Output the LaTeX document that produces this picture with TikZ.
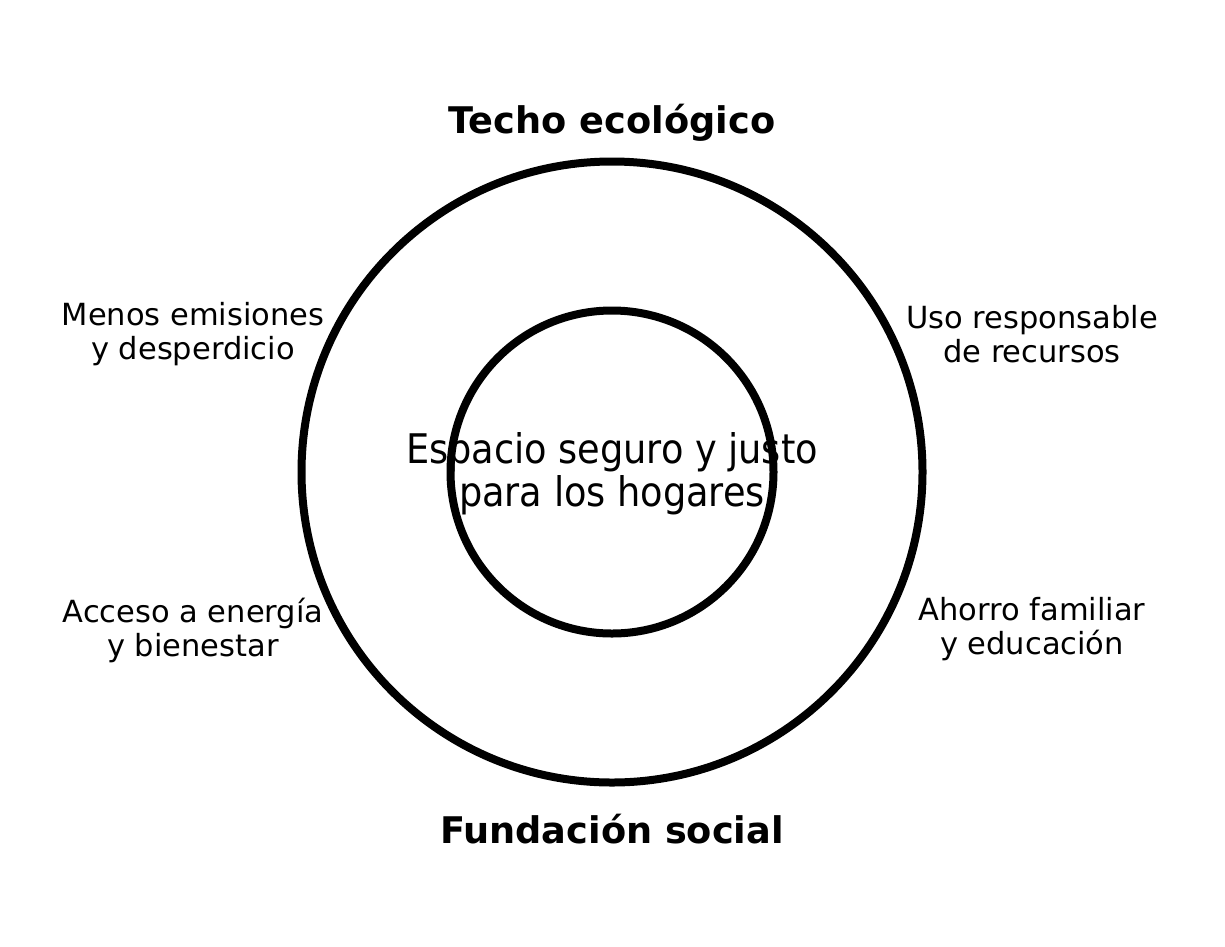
\documentclass[tikz,border=0pt]{standalone}
\usepackage{fontspec}
\setmainfont{DejaVu Sans}
\newfontfamily\condfont{DejaVu Sans Condensed}
\begin{document}
\begin{tikzpicture}[x=1pt,y=-1pt,
  ring/.style={draw=black,line width=8pt},
  titlelbl/.style={font=\fontsize{36.7}{44}\selectfont\bfseries,align=center},
  sidelbl/.style={font=\fontsize{30.5}{34}\selectfont,align=center},
  centerlbl/.style={font=\condfont\fontsize{40.8}{43}\selectfont,align=center}]
\useasboundingbox (0,0) rectangle (1225,946);
\coordinate (c) at (612,472);
\draw[ring] (c) circle[radius=310.5];
\draw[ring] (c) circle[radius=161.5];
\node[centerlbl] (center) at (612,473.5) {Espacio seguro y justo\\para los hogares};
\node[titlelbl] (top) at (612,123) {Techo ecológico};
\node[titlelbl] (bottom) at (612,829) {Fundación social};
\node[sidelbl] (ul) at (193,334.5) {Menos emisiones\\y desperdicio};
\node[sidelbl] (ur) at (1032,334.5) {Uso responsable\\de recursos};
\node[sidelbl] (ll) at (193,630.5) {Acceso a energía\\y bienestar};
\node[sidelbl] (lr) at (1032,629.5) {Ahorro familiar\\y educación};
\end{tikzpicture}
\end{document}
